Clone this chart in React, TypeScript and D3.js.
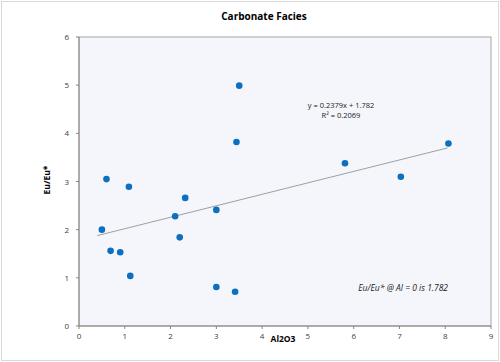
import React from "react";
import * as d3 from "d3";

// Al2O3 vs Eu/Eu* for the carbonate samples
const al2o3 = [0.5, 0.6, 1.09, 0.69, 0.9, 1.12, 2.1, 2.32, 2.2, 3.0, 3.0, 3.41, 3.44, 3.5, 5.81, 7.03, 8.07];
const euEu = [2.0, 3.05, 2.89, 1.56, 1.53, 1.04, 2.28, 2.66, 1.84, 2.41, 0.81, 0.71, 3.82, 4.99, 3.38, 3.1, 3.79];

const xTicks = [0, 1, 2, 3, 4, 5, 6, 7, 8, 9];
const yTicks = [0, 1, 2, 3, 4, 5, 6];

const slope = 0.2379;
const intercept = 1.782;
const fitRange = [0.4, 8.05];

const W = 500;
const H = 362;
const margin = { top: 37, right: 9, bottom: 36, left: 79 };

const font = "'Open Sans', 'Liberation Sans', sans-serif";

export default function App() {
    const x = d3.scaleLinear().domain([0, 9]).range([margin.left, W - margin.right]);
    const y = d3.scaleLinear().domain([0, 6]).range([H - margin.bottom, margin.top]);

    const line = d3.line<number>()
        .x(d => x(d))
        .y(d => y(slope * d + intercept));

    const plotW = x(9) - x(0);
    const plotH = y(0) - y(6);

    return (
        <svg width={W} height={H} style={{ position: "absolute", left: 0, top: 0, fontFamily: font }}>
            <rect x={0} y={0} width={W} height={H} fill="#fff" />
            <rect x={1.5} y={1.5} width={W - 3} height={H - 3} fill="none" stroke="#d9d9d9" />

            {/* plot area */}
            <rect x={x(0)} y={y(6)} width={plotW} height={plotH} fill="#f4f6fb" stroke="#a6a6a6" />
            <line x1={x(0)} x2={x(0)} y1={y(6)} y2={y(0)} stroke="#868686" />
            <line x1={x(0)} x2={x(9)} y1={y(0)} y2={y(0)} stroke="#868686" />

            <text x={264} y={20} textAnchor="middle" fontSize={10} fontWeight="bold" fill="#000">Carbonate Facies</text>

            {/* y axis */}
            {yTicks.map(t => (
                <g key={"y" + t}>
                    <line x1={x(0) - 3} x2={x(0)} y1={y(t)} y2={y(t)} stroke="#868686" />
                    <text x={x(0) - 10} y={y(t) + 3} textAnchor="end" fontSize={8} fill="#404040">{t}</text>
                </g>
            ))}

            {/* x axis */}
            {xTicks.map(t => (
                <g key={"x" + t}>
                    <line x1={x(t)} x2={x(t)} y1={y(0)} y2={y(0) + 3} stroke="#868686" />
                    <text x={x(t)} y={y(0) + 13} textAnchor="middle" fontSize={8} fill="#404040">{t}</text>
                </g>
            ))}

            <text x={283} y={342} textAnchor="middle" fontSize={8.5} fontWeight="bold" fill="#000">Al2O3</text>
            <text transform={`translate(50,180) rotate(-90)`} textAnchor="middle" fontSize={8.5} fontWeight="bold" fill="#000">Eu/Eu*</text>

            {/* trend line */}
            <path d={line(fitRange) ?? ""} fill="none" stroke="#a0a0a0" strokeWidth={1} />

            {/* points */}
            {al2o3.map((v, i) => (
                <circle key={i} cx={x(v)} cy={y(euEu[i])} r={3.3} fill="#0d6fbf" />
            ))}

            <text x={341} y={108} textAnchor="middle" fontSize={7.5} fill="#222">y = 0.2379x + 1.782</text>
            <text x={341} y={118} textAnchor="middle" fontSize={7.5} fill="#222">R² = 0.2069</text>

            <text x={448} y={291} textAnchor="end" fontSize={8.5} fontStyle="italic" fill="#222">Eu/Eu* @ Al = 0 is 1.782</text>
        </svg>
    );
}
